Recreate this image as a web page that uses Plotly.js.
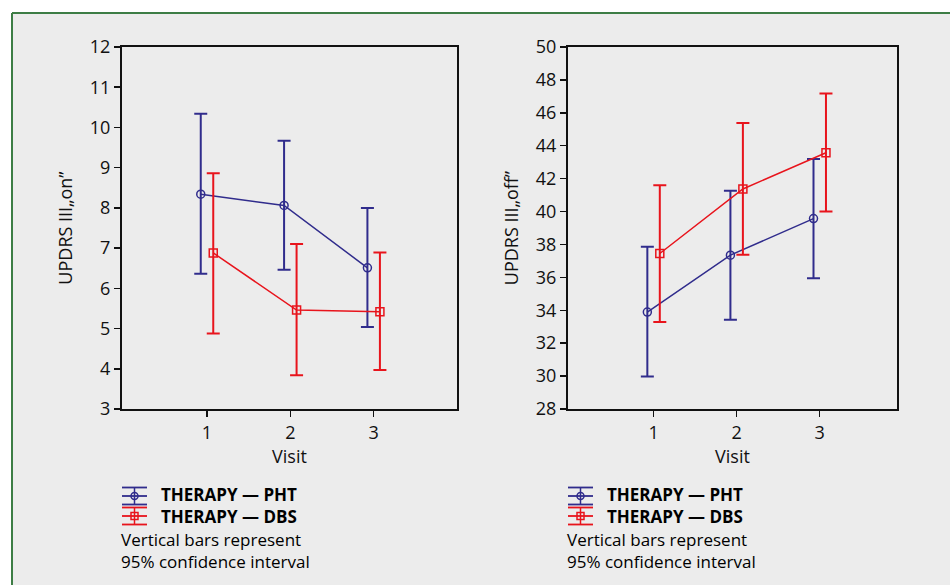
<!DOCTYPE html>
<html>
<head>
<meta charset="utf-8">
<script src="https://cdn.plot.ly/plotly-3.0.1.min.js"></script>
<style>html,body{margin:0;padding:0;background:#fff;}#chart{width:950px;height:585px;}</style>
</head>
<body>
<div id="chart"></div>
<script>
// ---- data ----
const visits = [1, 2, 3];
const visitTicks = ['1', '2', '3'];
const groupNames = ['THERAPY \u2014 PHT', 'THERAPY \u2014 DBS'];

const onPhtMean  = [8.34, 8.06, 6.51];
const onPhtUpper = [10.34, 9.67, 8.00];
const onPhtLower = [6.36, 6.46, 5.04];
const onDbsMean  = [6.88, 5.46, 5.42];
const onDbsUpper = [8.86, 7.10, 6.89];
const onDbsLower = [4.88, 3.84, 3.97];

const offPhtMean  = [33.89, 37.35, 39.57];
const offPhtUpper = [37.86, 41.27, 43.20];
const offPhtLower = [29.97, 33.43, 35.95];
const offDbsMean  = [37.45, 41.37, 43.57];
const offDbsUpper = [41.60, 45.38, 47.17];
const offDbsLower = [33.28, 37.37, 40.00];

const onTicks  = [3, 4, 5, 6, 7, 8, 9, 10, 11, 12];
const offTicks = [28, 30, 32, 34, 36, 38, 40, 42, 44, 46, 48, 50];

// ---- styling ----
const BLUE = '#302c8c';
const RED = '#e8141c';
const FONT = 'Open Sans, Liberation Sans, sans-serif';
const W = 950, H = 585;
const px = x => x / W;
const py = y => 1 - y / H;
const OFF = 0.075;

function series(means, upper, lower, color, symbol, xa, ya, dx) {
  return {
    type: 'scatter', mode: 'lines+markers',
    x: visits.map(v => v + dx), y: means,
    xaxis: xa, yaxis: ya,
    line: {color: color, width: 1.5},
    marker: {symbol: symbol, size: 8, color: color, line: {color: color, width: 1.5}},
    error_y: {type: 'data', symmetric: false,
      array: upper.map((u, i) => u - means[i]),
      arrayminus: lower.map((l, i) => means[i] - l),
      color: color, thickness: 2, width: 6.5},
    showlegend: false, hoverinfo: 'x+y'
  };
}

const traces = [
  series(onPhtMean, onPhtUpper, onPhtLower, BLUE, 'circle-open', 'x', 'y', -OFF),
  series(onDbsMean, onDbsUpper, onDbsLower, RED, 'square-open', 'x', 'y', OFF),
  series(offPhtMean, offPhtUpper, offPhtLower, BLUE, 'circle-open', 'x2', 'y2', -OFF),
  series(offDbsMean, offDbsUpper, offDbsLower, RED, 'square-open', 'x2', 'y2', OFF)
];

const axisCommon = {
  showline: true, linecolor: '#111', linewidth: 2, mirror: true,
  ticks: 'outside', ticklen: 6, tickwidth: 1.5, tickcolor: '#111',
  showgrid: false, zeroline: false,
  tickfont: {family: FONT, size: 18, color: '#111'}
};
const titleFont = {family: FONT, size: 18, color: '#111'};

const shapes = [
  {type: 'rect', xref: 'paper', yref: 'paper', x0: px(11), x1: 1.01, y0: -0.01, y1: py(13),
   fillcolor: '#ececec', line: {width: 0}, layer: 'below'},
  {type: 'line', xref: 'paper', yref: 'paper', x0: px(12), x1: 1.01, y0: py(13), y1: py(13),
   line: {color: '#3d7d45', width: 2}},
  {type: 'line', xref: 'paper', yref: 'paper', x0: px(12), x1: px(12), y0: py(13), y1: -0.01,
   line: {color: '#3d7d45', width: 2}}
];
const annotations = [];

function legendBlock(x0, textX) {
  const glyph = (yc, color, sym) => {
    const gx0 = x0, gx1 = x0 + 25, cx = x0 + 12.5;
    [yc - 8.5, yc, yc + 8.5].forEach(yy => shapes.push({type: 'line', xref: 'paper', yref: 'paper',
      x0: px(gx0), x1: px(gx1), y0: py(yy), y1: py(yy), line: {color: color, width: 1.8}}));
    shapes.push({type: 'line', xref: 'paper', yref: 'paper', x0: px(cx), x1: px(cx),
      y0: py(yc - 8.5), y1: py(yc + 8.5), line: {color: color, width: 1.5}});
    shapes.push({type: sym, xref: 'paper', yref: 'paper', x0: px(cx - 3.5), x1: px(cx + 3.5),
      y0: py(yc - 3.5), y1: py(yc + 3.5), line: {color: color, width: 1.5}});
  };
  glyph(496, BLUE, 'circle');
  glyph(516, RED, 'rect');
  annotations.push({xref: 'paper', yref: 'paper', x: px(textX), y: py(505.5),
    xanchor: 'left', yanchor: 'middle', showarrow: false, align: 'left', borderpad: 0,
    text: '<b>' + groupNames[0] + '</b><br><b>' + groupNames[1] + '</b>',
    font: {family: FONT, size: 17, color: '#000'}});
  annotations.push({xref: 'paper', yref: 'paper', x: px(x0 - 2), y: py(550.5),
    xanchor: 'left', yanchor: 'middle', showarrow: false, align: 'left', borderpad: 0,
    text: 'Vertical bars represent<br>95% confidence interval',
    font: {family: FONT, size: 17, color: '#000'}});
}
legendBlock(122, 160);
legendBlock(568, 606);

const layout = {
  width: W, height: H,
  margin: {l: 0, r: 0, t: 0, b: 0},
  paper_bgcolor: '#ffffff', plot_bgcolor: '#ffffff',
  showlegend: false,
  font: {family: FONT, color: '#111'},
  xaxis: Object.assign({}, axisCommon, {domain: [px(122), px(457)], range: [-0.02, 4.0],
    tickvals: visits, ticktext: visitTicks, anchor: 'y',
    title: {text: 'Visit', font: titleFont, standoff: 5}}),
  yaxis: Object.assign({}, axisCommon, {domain: [py(409), py(47)], range: [3, 12],
    tickvals: onTicks, anchor: 'x',
    title: {text: 'UPDRS III\u201eon\u201d', font: titleFont, standoff: 13}}),
  xaxis2: Object.assign({}, axisCommon, {domain: [px(568), px(897)], range: [-0.03, 3.93],
    tickvals: visits, ticktext: visitTicks, anchor: 'y2',
    title: {text: 'Visit', font: titleFont, standoff: 5}}),
  yaxis2: Object.assign({}, axisCommon, {domain: [py(409), py(47)], range: [28, 50],
    tickvals: offTicks, anchor: 'x2',
    title: {text: 'UPDRS III\u201eoff\u201d', font: titleFont, standoff: 13}}),
  shapes: shapes,
  annotations: annotations
};

Plotly.newPlot('chart', traces, layout, {displayModeBar: false, staticPlot: true});
</script>
</body>
</html>
